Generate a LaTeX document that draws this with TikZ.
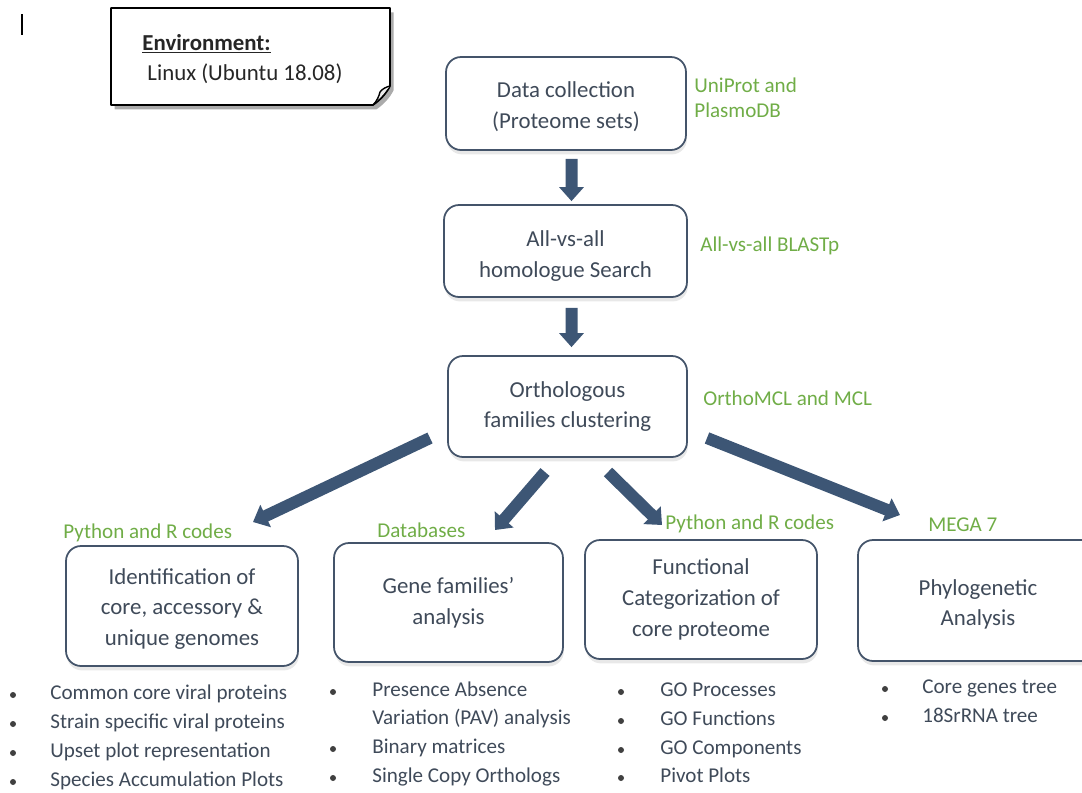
\documentclass[tikz,border=0pt]{standalone}
\usepackage{fontspec}
\setmainfont{Carlito}
\usetikzlibrary{arrows.meta,shadows,positioning}
\definecolor{boxline}{HTML}{44546A}
\definecolor{boxtext}{HTML}{3F4A59}
\definecolor{toolgreen}{HTML}{70AD47}
\definecolor{arrowblue}{HTML}{3D5675}
\newcommand\vpad[1]{\rule{0pt}{#1}}
\begin{document}
\begin{tikzpicture}[x=0.02cm,y=-0.02cm,line join=round,
    box/.style={draw=boxline,line width=1pt,rounded corners=0.3cm,fill=white,align=center,
      text=boxtext,font=\fontsize{13}{17.5}\selectfont,
      drop shadow={opacity=0.18,shadow xshift=0.5pt,shadow yshift=-2.5pt}},
    tool/.style={text=toolgreen,font=\fontsize{12}{14.5}\selectfont,align=left,inner sep=0pt,anchor=west},
    item/.style={text=boxtext,font=\fontsize{12}{15}\selectfont,inner sep=0pt,anchor=west,
      text height=0.7em,text depth=0.2em},
    dot/.style={circle,fill=black!75,minimum size=0.12cm,inner sep=0pt},
    flow/.style={draw=arrowblue,line width=0.24cm,-{Triangle[width=0.48cm,length=0.28cm]}}]
  \useasboundingbox (0,0) rectangle (1082,792);
  \draw[line width=0.6pt] (22,14) -- (22,35);
  % environment note
  \def\E{(111,8) -- (390,8) -- (390,86) .. controls (386,94) and (380,100) .. (373,105) -- (111,105) -- cycle}
  \fill[black!55,opacity=0.6,xshift=2pt,yshift=-2.5pt] \E;
  \fill[white] \E;
  \draw[line width=1pt] \E;
  \draw[line width=0.8pt,fill=black!8] (390,86) .. controls (386,87) and (382,89) .. (380,92)
    .. controls (379,96) and (377,101) .. (373,105);
  \node[align=left,font=\fontsize{13}{17.5}\selectfont,text=black!85]
    (env) at (242.5,59) {\textbf{\underline{Environment:}}\\\hspace*{0.1cm}Linux (Ubuntu 18.08)};
  % pipeline
  \node[box,minimum width=4.8cm,minimum height=1.86cm] (data) at (566,103.5) {\vpad{12.4pt}Data collection\\(Proteome sets)};
  \node[box,minimum width=4.86cm,minimum height=1.84cm] (blast) at (565.5,251) {\vpad{14.6pt}All-vs-all\\homologue Search};
  \node[box,minimum width=4.78cm,minimum height=2.02cm] (ortho) at (567.5,406.5) {Orthologous\\families clustering};
  \node[box,minimum width=4.64cm,minimum height=2.4cm] (core) at (182,606) {\vpad{12.4pt}Identification of\\core, accessory \&\\unique genomes};
  \node[box,minimum width=4.58cm,minimum height=2.38cm] (gene) at (448.5,602.5) {Gene families’\\analysis};
  \node[box,minimum width=4.64cm,minimum height=2.38cm] (func) at (701,599.5) {Functional\\Categorization of\\core proteome};
  \node[box,minimum width=4.8cm,minimum height=2.42cm] (phylo) at (978,600.5) {\vpad{13.5pt}Phylogenetic\\Analysis};
  % tools
  \node[tool] (uniprot) at (694,98) {UniProt and\\PlasmoDB};
  \node[tool] (blastp) at (700,246) {All-vs-all BLASTp};
  \node[tool] (mcl) at (703,398) {OrthoMCL and MCL};
  \node[tool] (pyr1) at (63,533) {Python and R codes};
  \node[tool] (dbs) at (377,530) {Databases};
  \node[tool] (pyr2) at (665,524) {Python and R codes};
  \node[tool] (mega) at (928,525) {MEGA 7};
  % arrows
  \draw[flow,shorten <=0.16cm,shorten >=0.06cm] ([xshift=0.11cm]data.south) -- ([xshift=0.12cm]blast.north);
  \draw[flow,shorten <=0.2cm,shorten >=0.16cm] ([xshift=0.12cm]blast.south) -- ([xshift=0.08cm]ortho.north);
  \coordinate (o1) at (430,438); \coordinate (t1) at (253,522);
  \coordinate (o2) at (545,472); \coordinate (t2) at (495,530);
  \coordinate (o3) at (608,472); \coordinate (t3) at (662,525);
  \coordinate (o4) at (707,438); \coordinate (t4) at (900,515);
  \foreach \i in {1,...,4}
    \draw[flow] (o\i) -- (t\i);
  % lists
  \foreach \t [count=\i] in {Common core viral proteins,Strain specific viral proteins,
      Upset plot representation,Species Accumulation Plots}{
    \node[item] (ca\i) at (50,{666+29*\i}) {\t};
    \node[dot] (cd\i) at (13,{666+29*\i}) {};
  }
  \node[item] (ga1) at (372,692) {Presence Absence};
  \node[item] (ga2) at (372,720) {Variation (PAV) analysis};
  \node[item] (ga3) at (372,749) {Binary matrices};
  \node[item] (ga4) at (372,778) {Single Copy Orthologs};
  \foreach \y/\n in {692/1,749/3,778/4}
    \node[dot] (gd\n) at (333,\y) {};
  \foreach \t/\y [count=\i] in {GO Processes/692,GO Functions/721,GO Components/750,Pivot Plots/778}{
    \node[item] (fa\i) at (660,\y) {\t};
    \node[dot] (fd\i) at (621,\y) {};
  }
  \foreach \t/\y [count=\i] in {Core genes tree/689,18SrRNA tree/718}{
    \node[item] (pa\i) at (922,\y) {\t};
    \node[dot] (pd\i) at (885,\y) {};
  }
\end{tikzpicture}
\end{document}
